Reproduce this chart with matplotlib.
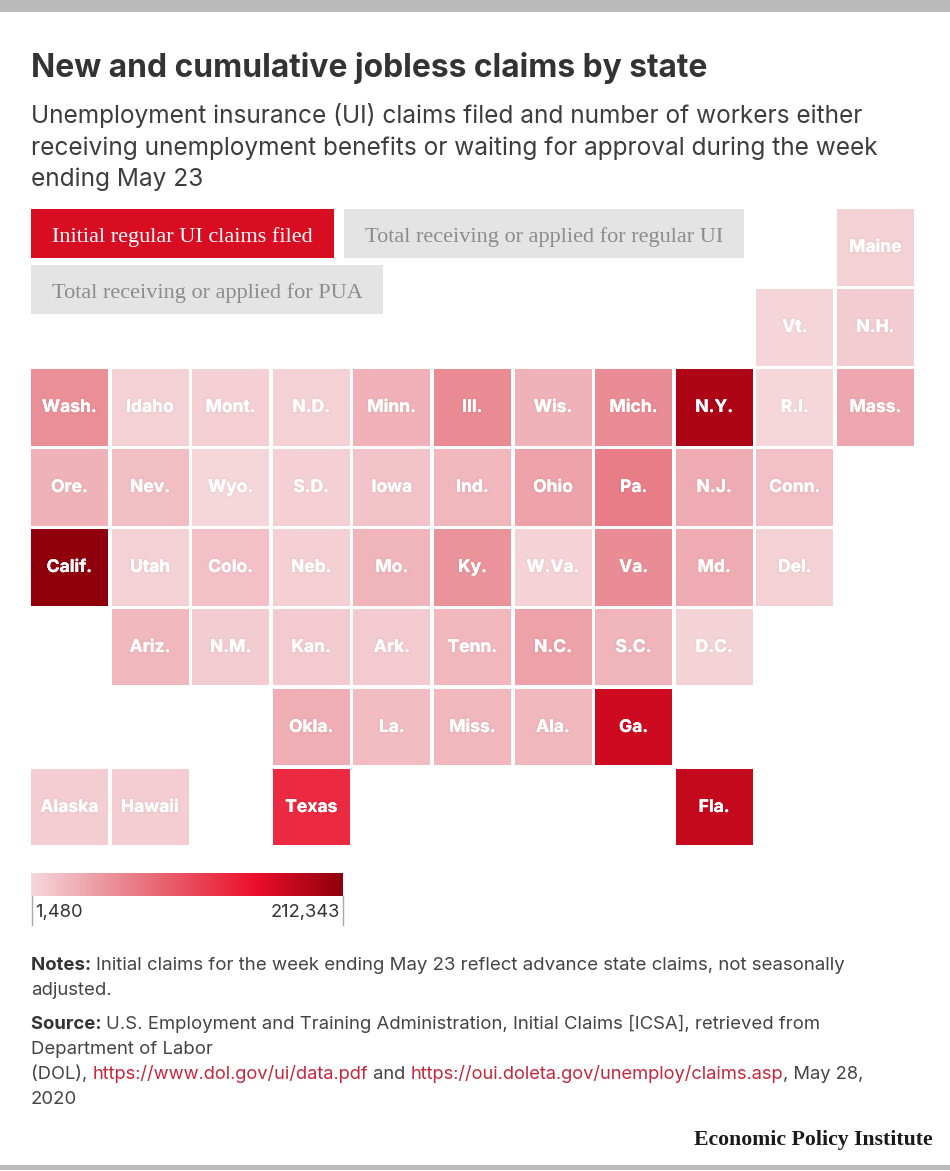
import numpy as np
import matplotlib
matplotlib.use('Agg')
import matplotlib.pyplot as plt
import matplotlib.patheffects as pe
from matplotlib.colors import LinearSegmentedColormap, Normalize

# tile grid: column, row, claims
states = ['Maine', 'Vt.', 'N.H.',
          'Wash.', 'Idaho', 'Mont.', 'N.D.', 'Minn.', 'Ill.', 'Wis.', 'Mich.', 'N.Y.', 'R.I.', 'Mass.',
          'Ore.', 'Nev.', 'Wyo.', 'S.D.', 'Iowa', 'Ind.', 'Ohio', 'Pa.', 'N.J.', 'Conn.',
          'Calif.', 'Utah', 'Colo.', 'Neb.', 'Mo.', 'Ky.', 'W.Va.', 'Va.', 'Md.', 'Del.',
          'Ariz.', 'N.M.', 'Kan.', 'Ark.', 'Tenn.', 'N.C.', 'S.C.', 'D.C.',
          'Okla.', 'La.', 'Miss.', 'Ala.', 'Ga.',
          'Alaska', 'Hawaii', 'Texas', 'Fla.']
cols = [10, 9, 10,
        0, 1, 2, 3, 4, 5, 6, 7, 8, 9, 10,
        0, 1, 2, 3, 4, 5, 6, 7, 8, 9,
        0, 1, 2, 3, 4, 5, 6, 7, 8, 9,
        1, 2, 3, 4, 5, 6, 7, 8,
        3, 4, 5, 6, 7,
        0, 1, 3, 8]
rows = [0, 1, 1,
        2, 2, 2, 2, 2, 2, 2, 2, 2, 2, 2,
        3, 3, 3, 3, 3, 3, 3, 3, 3, 3,
        4, 4, 4, 4, 4, 4, 4, 4, 4, 4,
        5, 5, 5, 5, 5, 5, 5, 5,
        6, 6, 6, 6, 6,
        7, 7, 7, 7]
claims = [6800, 3800, 9800,
          56900, 6800, 7600, 6800, 31000, 60000, 29600, 58400, 192700, 3000, 38000,
          29600, 20500, 1480, 7600, 16700, 26500, 43000, 70500, 35600, 19000,
          212343, 6800, 19000, 7600, 28000, 53800, 6000, 58400, 35600, 6800,
          27000, 9800, 12000, 12000, 26500, 43000, 28000, 5300,
          34000, 22700, 26500, 27000, 172000,
          9000, 9000, 134000, 177900]

buttons = ['Initial regular UI claims filed', 'Total receiving or applied for regular UI',
           'Total receiving or applied for PUA']
scale_min = 1480
scale_max = 212343

SANS = 'Inter'
SERIF = 'Liberation Serif'
DARK = '#333333'
TEXT = '#444444'
LINK = '#c5283d'

cmap = LinearSegmentedColormap.from_list('epi', [(0, '#f5d7db'), (0.33, '#e87c86'), (0.72, '#ec0f2a'), (1, '#8f000c')])
norm = Normalize(scale_min, scale_max)

W, H = 950, 1171
fig = plt.figure(figsize=(W / 100, H / 100), dpi=100)

# page layer in pixels, for text and furniture
page = fig.add_axes([0, 0, 1, 1])
page.set_xlim(0, W)
page.set_ylim(H, 0)
page.axis('off')
page.axhspan(0, 12, color='#b9b9b9', lw=0)
page.axhspan(1165, 1170, color='#b9b9b9', lw=0)


def runs(x, y, parts, size):
    # draw text pieces one after another on the same baseline
    r = fig.canvas.get_renderer()
    for s, color, weight in parts:
        t = page.text(x, y, s, color=color, fontsize=size, fontweight=weight, family=SANS, va='baseline')
        x = page.transData.inverted().transform(t.get_window_extent(r))[1][0]


page.text(31, 77, 'New and cumulative jobless claims by state', fontsize=22.9, fontweight='bold',
          family=SANS, color=DARK, va='baseline')
for y, s in zip([123, 155, 186], ['Unemployment insurance (UI) claims filed and number of workers either',
                                  'receiving unemployment benefits or waiting for approval during the week',
                                  'ending May 23']):
    page.text(31, y, s, fontsize=17.6, family=SANS, color='#3d3d3d', va='baseline')

# toggle buttons
boxes = [(31, 209, 303, 49), (344, 209, 400, 49), (31, 265, 352, 49)]
for (x, y, w, h), label, on in zip(boxes, buttons, [True, False, False]):
    page.add_patch(plt.Rectangle((x, y), w, h, color='#d80d22' if on else '#e4e4e4', lw=0))
    page.text(x + 21, y + h / 2 + 8.5, label, family=SERIF, fontsize=16, va='baseline',
              color='white' if on else '#8c8c8c')

# tile map
ax = fig.add_axes([(69.5 - 40.3) / W, 1 - (247.5 + 560 + 40) / H, (806 + 80.6) / W, (560 + 80) / H])
ax.set_xlim(-0.5, 10.5)
ax.set_ylim(7.5, -0.5)
ax.axis('off')
ax.patch.set_alpha(0)
ax.bar(cols, [0.955] * len(cols), bottom=np.array(rows) - 0.48, width=0.955,
       color=cmap(norm(claims)), align='center', lw=0)
for s, c, r in zip(states, cols, rows):
    ax.text(c, r, s, ha='center', va='center', color='white', family=SANS, fontweight='bold', fontsize=12.6,
            path_effects=[pe.withStroke(linewidth=3, foreground=(0, 0, 0, 0.015)), pe.Normal()])

# colour scale
cax = fig.add_axes([31 / W, 1 - 896 / H, 312 / W, 23 / H])
cax.imshow(np.linspace(scale_min, scale_max, 312).reshape(1, -1), cmap=cmap, norm=norm, aspect='auto',
           extent=[scale_min, scale_max, 0, 1])
cax.axis('off')
page.plot([32, 32], [896, 925], color='#aaaaaa', lw=1)
page.plot([342.5, 342.5], [896, 925], color='#aaaaaa', lw=1)
page.text(35, 917, f'{scale_min:,}', fontsize=13.2, family=SANS, color=DARK, va='baseline')
page.text(340, 917, f'{scale_max:,}', fontsize=13.2, family=SANS, color=DARK, va='baseline', ha='right')

# notes
fig.canvas.draw()
NS = 13.35
runs(31, 970, [('Notes: ', DARK, 'bold'),
               ('Initial claims for the week ending May 23 reflect advance state claims, not seasonally', TEXT, 'normal')], 13.42)
runs(31, 995, [('adjusted.', TEXT, 'normal')], NS)
runs(31, 1029, [('Source: ', DARK, 'bold'),
                ('U.S. Employment and Training Administration, Initial Claims [ICSA], retrieved from', TEXT, 'normal')], NS)
runs(31, 1054, [('Department of Labor', TEXT, 'normal')], NS)
runs(31, 1079, [('(DOL), ', TEXT, 'normal'), ('https://www.dol.gov/ui/data.pdf', LINK, 'normal'),
                (' and ', TEXT, 'normal'), ('https://oui.doleta.gov/unemploy/claims.asp', LINK, 'normal'),
                (', May 28,', TEXT, 'normal')], 13.2)
runs(31, 1104, [('2020', TEXT, 'normal')], NS)

page.text(933, 1145, 'Economic Policy Institute', family=SERIF, fontweight='bold', fontsize=15.7,
          color='#1a1a1a', ha='right', va='baseline')

fig.savefig('out.png', dpi=100, facecolor='white')
